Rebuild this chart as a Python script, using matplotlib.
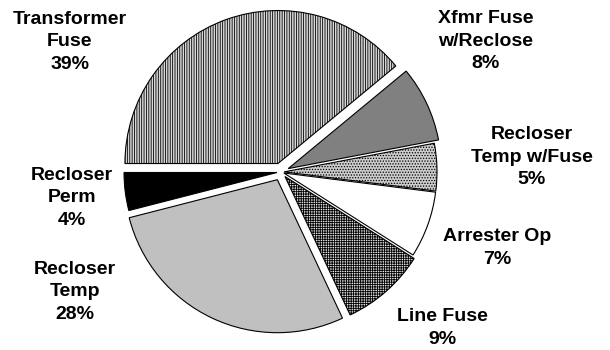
import matplotlib
matplotlib.use("Agg")
import matplotlib.pyplot as plt

# share of operations by device type
categories = ["Transformer\nFuse", "Xfmr Fuse\nw/Reclose", "Recloser\nTemp w/Fuse",
              "Arrester Op", "Line Fuse", "Recloser\nTemp", "Recloser\nPerm"]
percents = [39, 8, 5, 7, 9, 28, 4]

# slice styling
face_colors = ["#d8d8d8", "#808080", "#cccccc", "white", "#e0e0e0", "#c0c0c0", "black"]
hatches = ["|||||||", None, "......", None, "+++++++", None, None]
# pie() takes the offset in data units, here pixels
explode = [9, 8, 3, 3, 6, 8.5, 4]

# label centres in pixel coords (from top-left)
label_pos = [(70, 42), (486, 41), (532, 157), (497, 248), (442, 328), (75, 292), (72, 198)]

plt.rcParams["hatch.linewidth"] = 0.6
plt.rcParams["font.family"] = ["Liberation Sans", "DejaVu Sans"]

W, H = 610, 350
fig = plt.figure(figsize=(W / 100, H / 100), dpi=100)
ax = fig.add_axes([0, 0, 1, 1])

wedges, _ = ax.pie(percents, explode=explode, colors=face_colors, startangle=180,
                   counterclock=False, center=(281, H - 172), radius=153,
                   wedgeprops=dict(edgecolor="black", linewidth=0.8))
for w, h in zip(wedges, hatches):
    if h:
        w.set_hatch(h)

ax.set_xlim(0, W)
ax.set_ylim(0, H)
ax.set_aspect("equal")
ax.axis("off")

for name, pct, (x, y) in zip(categories, percents, label_pos):
    ax.text(x, H - y, f"{name}\n{pct}%", ha="center", va="center",
            fontsize=14, fontweight="bold", linespacing=1.4)

fig.savefig("out.png", dpi=100)
